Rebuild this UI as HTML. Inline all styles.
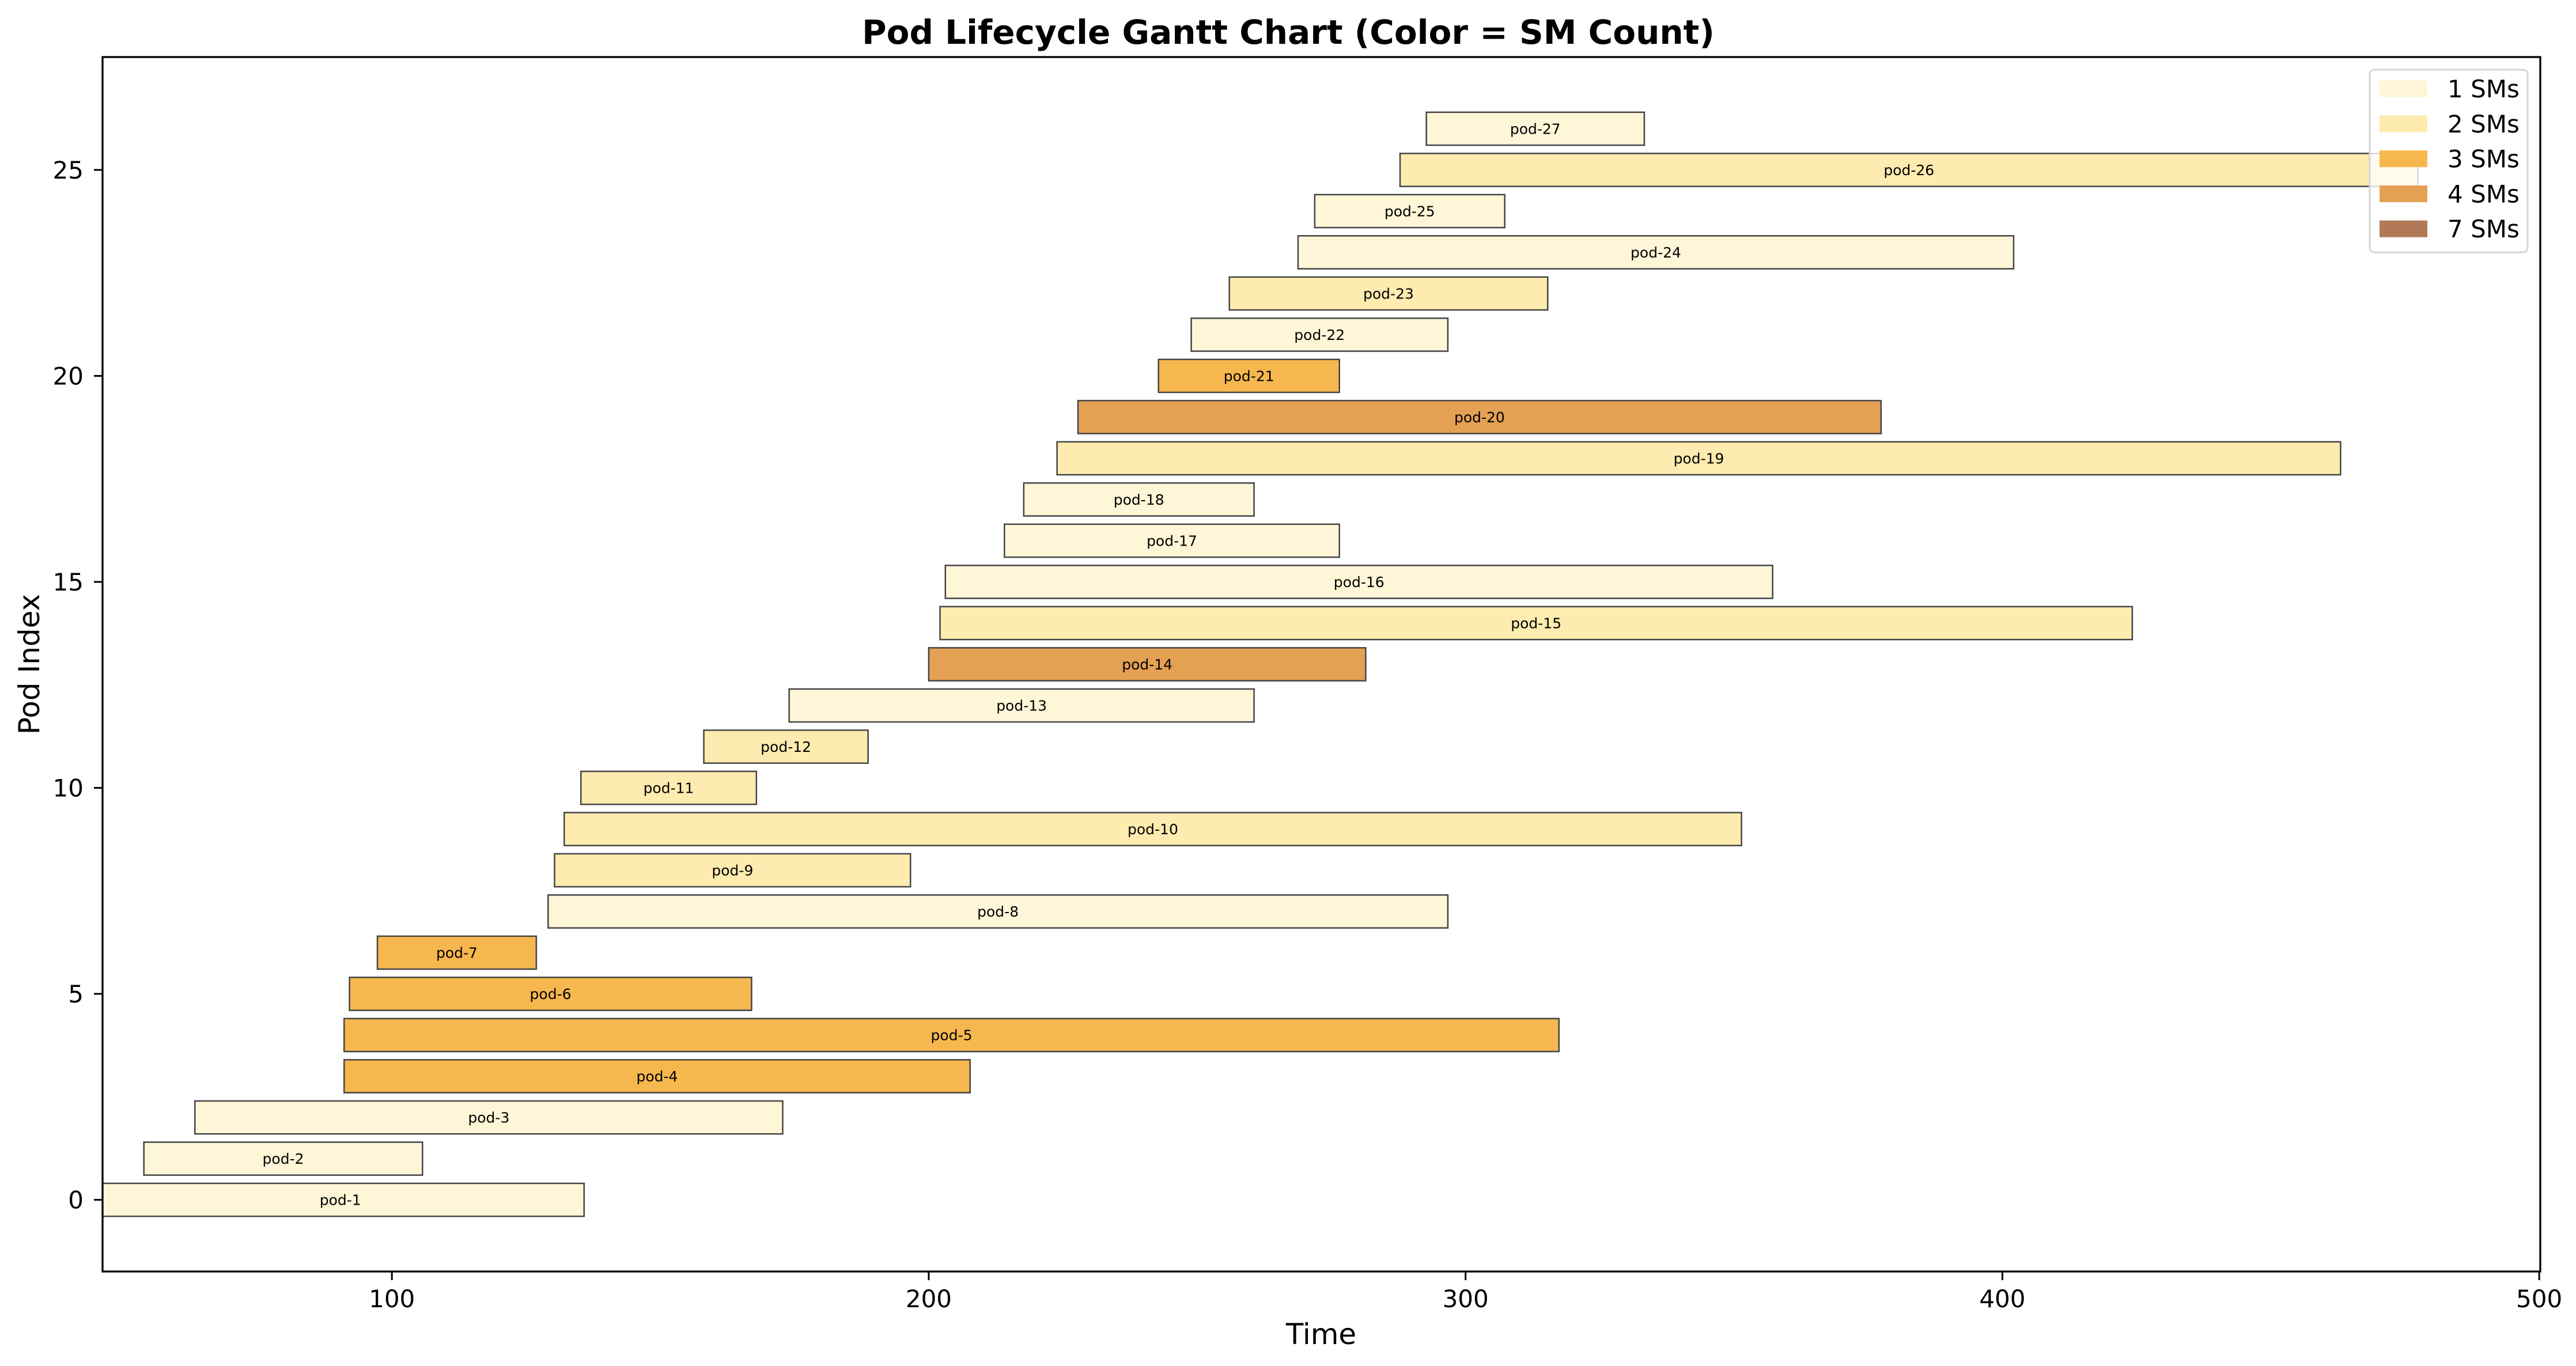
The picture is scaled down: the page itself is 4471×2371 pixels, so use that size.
<!DOCTYPE html>
<html><head><meta charset="utf-8"><style>
html,body{margin:0;padding:0;background:#fff}
svg{display:block;font-family:"DejaVu Sans","Liberation Sans",sans-serif}
</style></head><body>
<svg id="chart" width="4471" height="2371" viewBox="0 0 4471 2371" xmlns="http://www.w3.org/2000/svg">
<rect width="4471" height="2371" fill="#fff"/>
<text x="2236" y="76" text-anchor="middle" font-size="58" font-weight="bold">Pod Lifecycle Gantt Chart (Color = SM Count)</text>
<g id="bars"></g>
<g id="axes"></g>
<text x="2293" y="2333" text-anchor="middle" font-size="50">Time</text>
<text transform="translate(68,1153) rotate(-90)" text-anchor="middle" font-size="50">Pod Index</text>
<g id="legend"></g>
</svg>
<script>
const podNames = ["pod-1","pod-2","pod-3","pod-4","pod-5","pod-6","pod-7","pod-8","pod-9","pod-10","pod-11","pod-12","pod-13","pod-14","pod-15","pod-16","pod-17","pod-18","pod-19","pod-20","pod-21","pod-22","pod-23","pod-24","pod-25","pod-26","pod-27"];
const startTimes = [45,53.8,63.3,91.1,91.1,92.1,97.3,129.1,130.3,132.1,135.2,158.1,174.0,200.0,202.1,203.1,214.1,217.7,223.9,227.8,242.8,248.9,256.0,268.8,271.9,287.8,292.7];
const endTimes = [135.8,105.7,172.8,207.7,317.4,167.0,126.9,296.7,196.6,351.4,167.9,188.7,260.6,281.4,424.2,357.2,276.5,260.6,463.0,377.4,276.5,296.7,315.3,402.1,307.3,477.4,333.3];
const smCounts = [1,1,1,3,3,3,3,1,2,2,2,2,1,4,2,1,1,1,2,4,3,1,2,1,1,2,1];
const legendCounts = [1,2,3,4,7];
const xTicks = [100,200,300,400,500];
const yTicks = [0,5,10,15,20,25];
const colorMap = {1:"#fff5d7",2:"#feebaf",3:"#f6b74f",4:"#e4a053",7:"#b27956"};

const NS="http://www.w3.org/2000/svg";
const L=178,R=4409,T=99,B=2207;
const xMin=46.1,xMax=500.2,yMin=-1.74,yMax=27.74;
const xs=v=>L+(v-xMin)/(xMax-xMin)*(R-L);
const ys=v=>B-(v-yMin)/(yMax-yMin)*(B-T);
function mk(tag,attrs,parent){const e=document.createElementNS(NS,tag);for(const k in attrs)e.setAttribute(k,attrs[k]);parent.appendChild(e);return e;}

const clip=mk('clipPath',{id:'plotclip'},document.getElementById('chart'));
mk('rect',{x:L,y:T,width:R-L,height:B-T},clip);
const bars=document.getElementById('bars');
bars.setAttribute('clip-path','url(#plotclip)');
const uh=(B-T)/(yMax-yMin);
podNames.forEach((n,i)=>{
  const x0=xs(startTimes[i]),x1=xs(endTimes[i]),yc=ys(i);
  const r=mk('rect',{x:x0,y:yc-0.4*uh,width:x1-x0,height:0.8*uh,fill:colorMap[smCounts[i]],stroke:'#444',"stroke-width":2.5},bars);
  
  
  const t=mk('text',{x:(x0+x1)/2,y:yc+9,"text-anchor":"middle","font-size":25},bars);
  
  
  t.textContent=n;
});

const axes=document.getElementById('axes');
const frame=mk('rect',{x:L,y:T,width:R-L,height:B-T,fill:'none',stroke:'#000',"stroke-width":3.3},axes);


xTicks.forEach(v=>{
  const x=xs(v);
  const tk=mk('line',{x1:x,x2:x,y1:B,y2:B+15,stroke:'#000',"stroke-width":3},axes);
  
  
  const t=mk('text',{x:x,y:B+62,"text-anchor":"middle","font-size":42},axes);
  
  
  t.textContent=v;
});
yTicks.forEach(v=>{
  const y=ys(v);
  const tk=mk('line',{x1:L-15,x2:L,y1:y,y2:y,stroke:'#000',"stroke-width":3},axes);
  
  
  const t=mk('text',{x:L-33,y:y+15,"text-anchor":"end","font-size":42},axes);
  
  
  t.textContent=v;
});

const lg=document.getElementById('legend');
const box=mk('rect',{x:4113,y:121,width:274,height:317,rx:8,fill:'#fff',"fill-opacity":0.8,stroke:'#d6d6d6',"stroke-width":3},lg);


legendCounts.forEach((c,i)=>{
  const yc=154+i*60.8;
  const p=mk('rect',{x:4130,y:yc-14.5,width:83,height:29,fill:colorMap[c]},lg);
  
  
  const t=mk('text',{x:4248,y:yc+15,"font-size":42},lg);
  
  
  t.textContent=c+' SMs';
});
</script>
</body></html>
